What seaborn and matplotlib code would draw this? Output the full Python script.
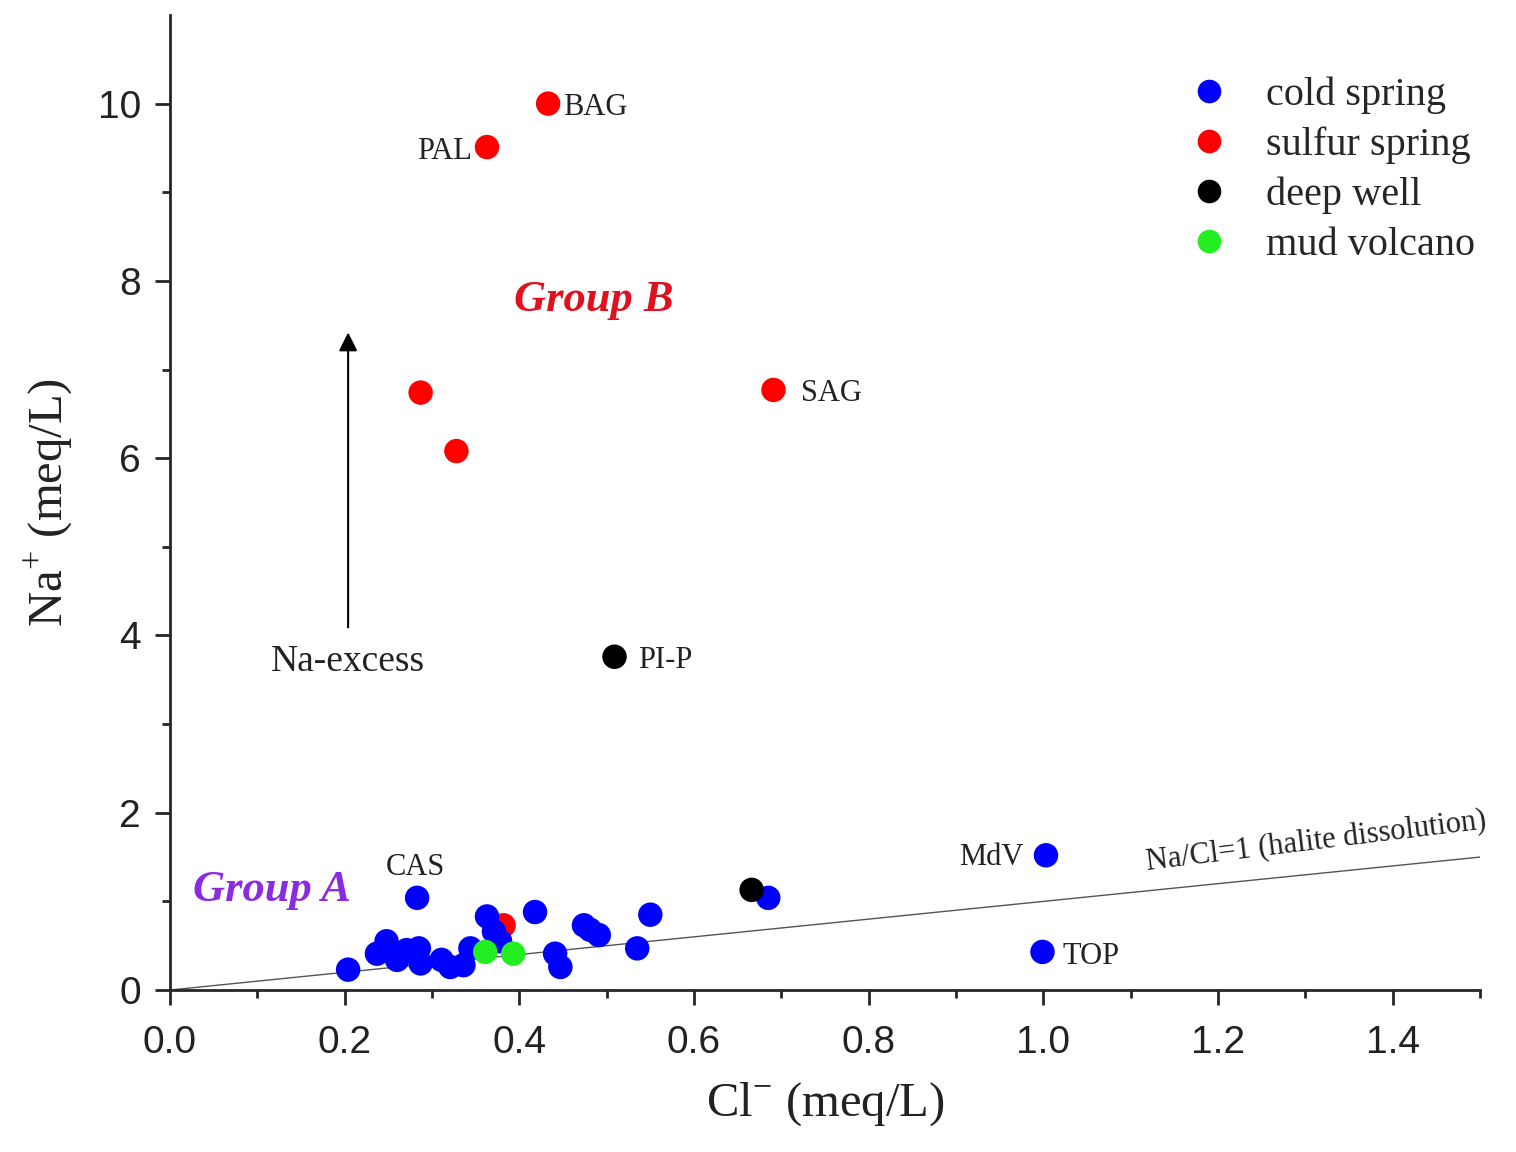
import numpy as np
import pandas as pd
import matplotlib
matplotlib.use("Agg")
import matplotlib.pyplot as plt
import seaborn as sns

# Cl- and Na+ concentrations (meq/L) by water type
cold_cl = [0.204, 0.283, 0.237, 0.248, 0.260, 0.271, 0.285, 0.287, 0.311, 0.321,
           0.336, 0.344, 0.363, 0.371, 0.378, 0.418, 0.441, 0.447, 0.474, 0.481,
           0.491, 0.535, 0.550, 0.685, 1.003, 0.999]
cold_na = [0.23, 1.04, 0.41, 0.55, 0.34, 0.45, 0.47, 0.30, 0.34, 0.26,
           0.28, 0.47, 0.83, 0.66, 0.55, 0.88, 0.41, 0.26, 0.73, 0.68,
           0.62, 0.47, 0.85, 1.04, 1.52, 0.43]
sulfur_cl = [0.433, 0.363, 0.287, 0.328, 0.691, 0.382]
sulfur_na = [10.0, 9.51, 6.74, 6.08, 6.77, 0.73]
well_cl = [0.509, 0.666]
well_na = [3.76, 1.13]
mud_cl = [0.361, 0.393]
mud_na = [0.43, 0.41]

groups = ["cold spring", "sulfur spring", "deep well", "mud volcano"]
colors = ["#0000FF", "#FF0000", "#000000", "#22EE22"]

# Sample labels: (text, Cl, Na, horizontal alignment)
site_labels = [("BAG", 0.450, 9.96, "left"), ("PAL", 0.346, 9.46, "right"),
               ("SAG", 0.722, 6.73, "left"), ("PI-P", 0.536, 3.72, "left"),
               ("CAS", 0.281, 1.38, "center"), ("MdV", 0.977, 1.50, "right"),
               ("TOP", 1.022, 0.38, "left")]

df = pd.concat([
    pd.DataFrame({"Cl": sulfur_cl, "Na": sulfur_na, "type": groups[1]}),
    pd.DataFrame({"Cl": cold_cl, "Na": cold_na, "type": groups[0]}),
    pd.DataFrame({"Cl": well_cl, "Na": well_na, "type": groups[2]}),
    pd.DataFrame({"Cl": mud_cl, "Na": mud_na, "type": groups[3]}),
], ignore_index=True)

sns.set_style("ticks")
serif = ["Liberation Serif", "DejaVu Serif"]
sans = ["Liberation Sans", "DejaVu Sans"]
plt.rcParams["font.family"] = serif
plt.rcParams["mathtext.fontset"] = "custom"
plt.rcParams["mathtext.rm"] = "Liberation Serif"

fig = plt.figure(figsize=(15.16, 11.52), dpi=100)
ax = fig.add_axes([0.1121, 0.1406, 0.8642, 0.8464])

# 1:1 halite dissolution line
ax.plot([0, 1.5], [0, 1.5], color="#555555", lw=1.0, zorder=1)

sns.scatterplot(data=df, x="Cl", y="Na", hue="type", hue_order=groups,
                palette=dict(zip(groups, colors)), s=310, linewidth=0,
                ax=ax, zorder=3, legend=False)

ax.set_xlim(0, 1.5)
ax.set_ylim(0, 11)
ax.set_xticks(np.arange(0, 1.41, 0.2))
ax.set_xticks(np.arange(0.1, 1.51, 0.2), minor=True)
ax.set_yticks(np.arange(0, 11, 2))
ax.set_yticks(np.arange(1, 11, 2), minor=True)
ax.xaxis.set_major_formatter(matplotlib.ticker.FormatStrFormatter("%.1f"))
for side in ["top", "right"]:
    ax.spines[side].set_visible(False)
for side in ["left", "bottom"]:
    ax.spines[side].set_linewidth(2)
ax.tick_params(which="major", length=11, width=2, direction="out")
ax.tick_params(which="minor", length=6, width=2, direction="out")
ax.tick_params(axis="x", which="major", pad=14)
ax.tick_params(axis="y", which="major", pad=10)
for lab in ax.get_xticklabels() + ax.get_yticklabels():
    lab.set_family(sans)
    lab.set_fontsize(28)
    lab.set_color("#222222")

ax.set_xlabel("Cl$^{-}$ (meq/L)", fontsize=35, labelpad=14, color="#222222")
ax.set_ylabel("Na$^{+}$ (meq/L)", fontsize=35, labelpad=16, color="#222222")

for txt, xv, yv, ha in site_labels:
    ax.text(xv, yv, txt, fontsize=22, ha=ha, va="center", color="#222222")

ax.text(0.485, 7.79, "Group B", fontsize=32, color="#E0101E", fontweight="bold",
        fontstyle="italic", ha="center", va="center")
ax.text(0.117, 1.13, "Group A", fontsize=32, color="#8A2BE2", fontweight="bold",
        fontstyle="italic", ha="center", va="center")

ax.annotate("", xy=(0.204, 7.45), xytext=(0.204, 4.06),
            arrowprops=dict(arrowstyle="-|>", color="black", lw=1.5,
                            mutation_scale=28))
ax.text(0.204, 3.70, "Na-excess", fontsize=27, ha="center", va="center",
        color="#222222")

ax.text(1.12, 1.27, "Na/Cl=1 (halite dissolution)", fontsize=22,
        rotation=7, rotation_mode="anchor", ha="left", va="bottom",
        color="#222222", clip_on=False)

handles = [plt.Line2D([], [], marker="o", ls="", color=c, markersize=17,
                      markeredgewidth=0) for c in colors]
fig.legend(handles, groups, loc="upper left", bbox_to_anchor=(0.771, 0.951),
           frameon=False, fontsize=29, handletextpad=0.9, labelspacing=0.31,
           borderpad=0, handlelength=1.0)

fig.savefig("out.png", dpi=100)
